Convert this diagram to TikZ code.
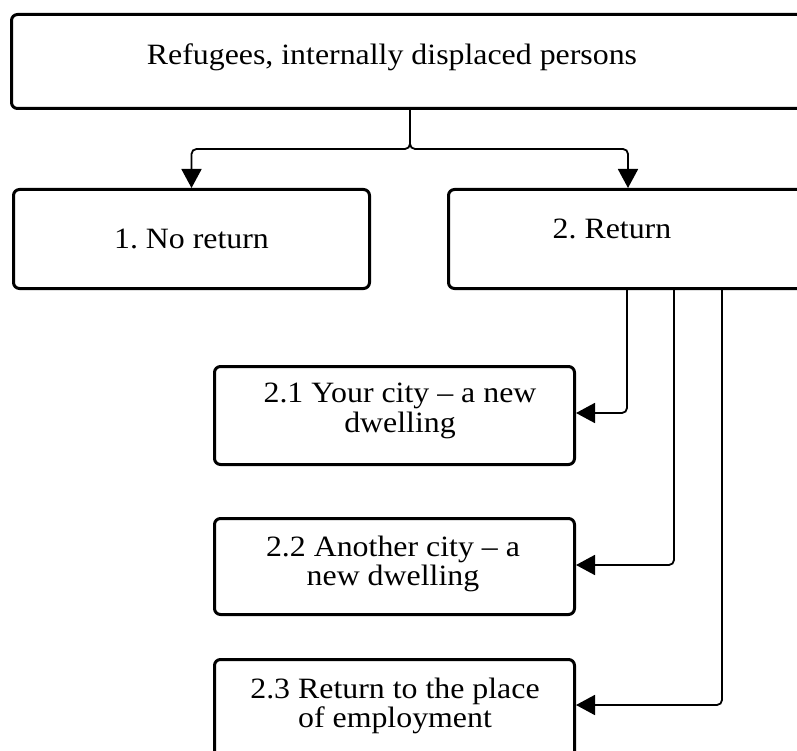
\documentclass[tikz,border=0pt]{standalone}
\usepackage{fontspec}
\setmainfont{Liberation Serif}[FakeStretch=1.08]
\usetikzlibrary{arrows.meta}
\frenchspacing
\tikzset{
  txt/.style={font=\fontsize{29.5}{29.5}\selectfont, align=center},
  box/.style={draw, line width=3pt, rounded corners=6pt, inner sep=0pt, txt, anchor=north west},
  lbl/.style={txt, inner sep=0pt},
  conn/.style={line width=1.8pt, rounded corners=5pt, -{Triangle[length=19pt,width=20pt]}}
}
\begin{document}
\begin{tikzpicture}[x=1pt,y=-1pt]
\clip (0,0) rectangle (797,751);
% boxes
\node[box, minimum width=900pt, minimum height=94pt] (top) at (10,13) {};
\node[lbl] (toptext) at (392,57) {Refugees, internally displaced persons};
\node[box, minimum width=356pt, minimum height=99pt] (n1) at (12,188) {1. No return};
\node[box, minimum width=600pt, minimum height=99pt] (n2) at (447,188) {};
\node[lbl] (n2text) at (612,229) {2. Return};
\node[box, minimum width=360pt, minimum height=98pt] (n21) at (213,365) {};
\node[lbl] (n21text) at (400,411) {2.1 Your city -- a new\\dwelling};
\node[box, minimum width=360pt, minimum height=96pt] (n22) at (213,517) {};
\node[lbl] (n22text) at (393,564) {2.2 Another city -- a\\new dwelling};
\node[box, minimum width=360pt, minimum height=112pt] (n23) at (213,658) {};
\node[lbl] (n23text) at (395,706) {2.3 Return to the place\\of employment};
% connectors
\coordinate (s) at (410,149);
\coordinate (c2) at (628,0);
\draw[conn] (top.south -| s) -- (s) -| (n1.north);
\draw[conn] (top.south -| s) -- (s) -| (n2.north -| c2);
\coordinate (v1) at (627,413);
\coordinate (v2) at (674,565);
\coordinate (v3) at (722,705);
\draw[conn] (n2.south -| v1) |- (n21.east |- v1);
\draw[conn] (n2.south -| v2) |- (n22.east |- v2);
\draw[conn] (n2.south -| v3) |- (n23.east |- v3);
\end{tikzpicture}
\end{document}
